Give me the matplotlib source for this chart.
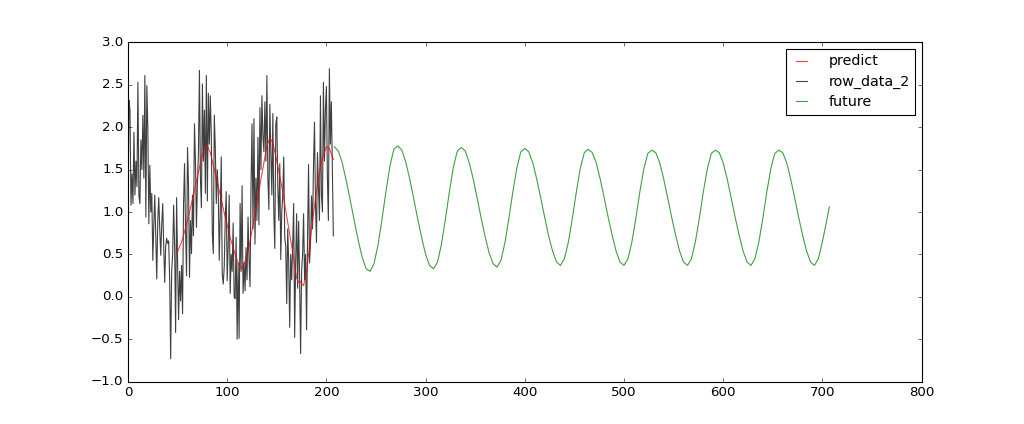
import matplotlib
matplotlib.use("Agg")
import matplotlib.pyplot as plt

# ---- data ----
row_data_2 = [
    1.08, 2.32, 2.20, 1.08, 1.45, 1.10, 1.94, 1.20, 1.60, 1.30,
    2.53, 1.19, 1.10, 1.85, 1.50, 2.14, 1.40, 2.61, 0.94, 2.49,
    1.98, 0.86, 1.55, 1.00, 1.22, 0.43, 0.85, 1.20, 0.70, 0.21,
    0.90, 1.17, 0.80, 0.49, 0.85, 1.10, 0.60, 0.17, 0.60, 0.69,
    0.63, 0.66, 0.20, -0.73, 0.30, 0.50, 1.08, 0.60, -0.42, 1.17,
    0.40, -0.27, 0.30, -0.05, 0.37, -0.20, 1.10, 1.57, 0.80, 0.25,
    1.76, 1.32, 0.23, 0.90, 0.51, 1.20, 0.72, 2.04, 1.60, 0.82,
    1.34, 1.70, 2.67, 1.40, 1.05, 2.51, 1.60, 2.20, 1.22, 2.61,
    1.13, 2.40, 1.80, 2.37, 1.88, 0.75, 0.51, 2.14, 1.76, 1.10,
    1.50, 1.24, 0.43, 1.00, 1.65, 0.27, 0.15, 0.35, 0.90, 1.24,
    0.19, 0.60, 1.20, 0.04, 0.50, 0.30, 0.87, 0.00, -0.02, 0.70,
    -0.50, 0.40, -0.49, 1.10, 0.30, 1.31, 0.04, 0.40, 0.07, 0.58,
    0.20, 0.94, 0.45, 0.12, 1.30, 2.04, 0.80, 2.10, 0.62, 1.40,
    0.90, 1.88, 0.85, 2.23, 1.50, 2.37, 1.90, 1.71, 2.30, 1.60,
    2.61, 1.40, 1.03, 2.27, 1.70, 1.20, 2.16, 0.97, 0.57, 2.04,
    2.12, 1.30, 0.90, 1.57, 0.44, 1.00, 1.20, 1.65, 0.70, 0.60,
    -0.08, 0.80, 0.40, -0.36, 0.50, 0.20, 0.60, 1.10, -0.48, 0.40,
    0.98, 0.10, 0.89, 0.20, -0.67, 0.30, 0.50, 0.98, 0.20, 0.50,
    -0.39, 0.70, 1.56, 0.40, 0.64, 1.19, 0.80, 1.56, 2.06, 1.10,
    0.64, 1.70, 1.30, 0.90, 2.37, 1.20, 1.00, 2.53, 1.60, 2.20,
    2.48, 1.40, 0.90, 2.69, 1.80, 2.30, 1.50, 0.72,
]
row_x = list(range(len(row_data_2)))

predict_x = [50, 55, 60, 65, 70, 75, 78, 80, 83, 88, 93, 98, 103, 108, 112,
             115, 118, 121, 125, 130, 135, 140, 143, 146, 150, 155, 160, 165,
             170, 172, 174, 177, 180, 185, 190, 195, 200, 203, 207]
predict_y = [0.53, 0.68, 0.90, 1.15, 1.42, 1.68, 1.77, 1.78, 1.70, 1.45, 1.20,
             0.94, 0.70, 0.50, 0.37, 0.33, 0.42, 0.52, 0.78, 1.12, 1.45, 1.78,
             1.87, 1.82, 1.60, 1.30, 0.95, 0.60, 0.22, 0.17, 0.18, 0.13, 0.30,
             0.80, 1.25, 1.60, 1.77, 1.75, 1.62]

future_x = list(range(208, 705, 4)) + [707]
future_y = [
    # 208..268
    1.77, 1.72, 1.58, 1.37, 1.14, 0.90, 0.67, 0.47, 0.33, 0.30, 0.39, 0.61, 0.91, 1.24, 1.54, 1.74,
    # 272..332
    1.78, 1.73, 1.59, 1.39, 1.16, 0.92, 0.70, 0.50, 0.37, 0.33, 0.41, 0.62, 0.92, 1.24, 1.53, 1.72,
    # 336..396
    1.76, 1.72, 1.58, 1.39, 1.16, 0.93, 0.71, 0.52, 0.39, 0.35, 0.43, 0.64, 0.93, 1.24, 1.52, 1.71,
    # 400..460
    1.75, 1.71, 1.58, 1.39, 1.17, 0.94, 0.72, 0.54, 0.41, 0.37, 0.45, 0.65, 0.93, 1.24, 1.52, 1.70,
    # 464..524
    1.74, 1.70, 1.58, 1.39, 1.17, 0.94, 0.73, 0.54, 0.41, 0.37, 0.45, 0.65, 0.93, 1.24, 1.51, 1.69,
    # 528..588
    1.73, 1.70, 1.58, 1.39, 1.17, 0.94, 0.73, 0.54, 0.41, 0.37, 0.45, 0.65, 0.93, 1.24, 1.51, 1.69,
    # 592..652
    1.73, 1.70, 1.58, 1.39, 1.17, 0.94, 0.73, 0.54, 0.41, 0.37, 0.45, 0.65, 0.93, 1.24, 1.51, 1.69,
    # 656..704
    1.73, 1.70, 1.58, 1.39, 1.17, 0.94, 0.73, 0.54, 0.41, 0.37, 0.45, 0.65, 0.88,
    # 707
    1.06,
]

plt.style.use("classic")
plt.rcParams["figure.facecolor"] = "white"
plt.rcParams["savefig.facecolor"] = "white"

fig = plt.figure(figsize=(12.8, 5.3), dpi=80)
ax = fig.add_subplot(111)
ax.plot(predict_x, predict_y, color="r", alpha=0.75, label="predict", zorder=3)
ax.plot(row_x, row_data_2, color="k", alpha=0.75, label="row_data_2", zorder=2)
ax.plot(future_x, future_y, color="g", alpha=0.75, label="future", zorder=2)
ax.set_xlim(0, 800)
ax.set_ylim(-1.0, 3.0)
ax.legend(loc="upper right", fontsize=12.8, handlelength=1.4,
          handletextpad=1.2, labelspacing=0.45, borderaxespad=0.45)
fig.savefig("out.png", dpi=80)
